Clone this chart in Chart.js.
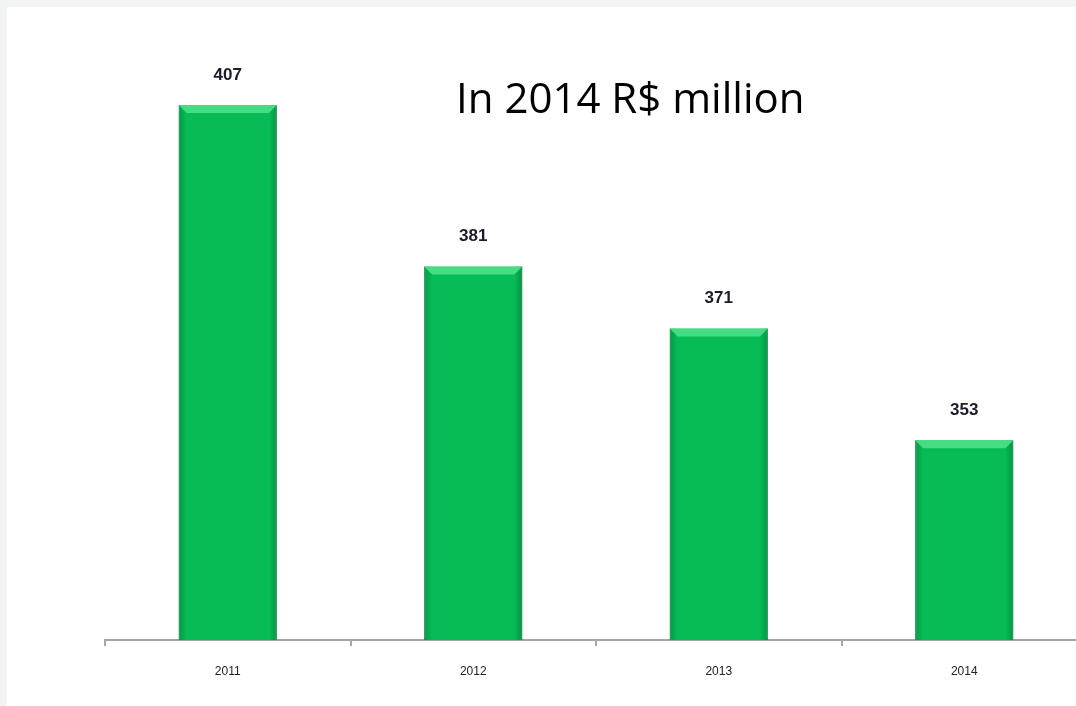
<!DOCTYPE html>
<html>
<head>
<meta charset="utf-8">
<script src="https://cdn.jsdelivr.net/npm/chart.js@4"></script>
<style>
  html, body { margin: 0; padding: 0; width: 1076px; height: 706px; overflow: hidden; background: #f2f3f3; }
  #panel { position: absolute; left: 7px; top: 7px; right: 0; bottom: 0; background: #fff; }
  #wrap { position: absolute; left: 0; top: 0; width: 1090px; height: 706px; }
  #title { position: absolute; left: 456px; top: 68px; font-family: "Open Sans", sans-serif; font-size: 42px; line-height: normal; color: #000; white-space: nowrap; }
</style>
</head>
<body>
<div id="panel"></div>
<div id="wrap"><canvas id="chart" width="1090" height="706"></canvas></div>
<div id="title">In 2014 R$ million</div>
<script>
const years = ['2011', '2012', '2013', '2014'];
const values = [407, 381, 371, 353];

// ---------------- BEVEL LOOK + VALUE LABELS ----------------
const bevelPlugin = {
  id: 'bevel',
  afterDatasetsDraw(chart) {
    const ctx = chart.ctx;
    const bottom = chart.chartArea.bottom;
    chart.getDatasetMeta(0).data.forEach((bar, i) => {
      const l = bar.x - bar.width / 2, r = bar.x + bar.width / 2;
      const t = bar.y, d = 8;
      ctx.save();
      // dark side strips
      let g = ctx.createLinearGradient(l, 0, l + d, 0);
      g.addColorStop(0, 'rgba(0,90,40,0.35)');
      g.addColorStop(1, 'rgba(0,90,40,0)');
      ctx.fillStyle = g;
      ctx.fillRect(l, t, d, bottom - t);
      g = ctx.createLinearGradient(r - d, 0, r, 0);
      g.addColorStop(0, 'rgba(0,90,40,0)');
      g.addColorStop(1, 'rgba(0,90,40,0.4)');
      ctx.fillStyle = g;
      ctx.fillRect(r - d, t, d, bottom - t);
      // light top bevel
      ctx.beginPath();
      ctx.moveTo(l, t);
      ctx.lineTo(r, t);
      ctx.lineTo(r - d, t + d);
      ctx.lineTo(l + d, t + d);
      ctx.closePath();
      ctx.fillStyle = '#45dc83';
      ctx.fill();
      // value label
      ctx.fillStyle = '#1b1b2a';
      ctx.font = 'bold 17px "Liberation Sans", Arial, sans-serif';
      ctx.textAlign = 'center';
      ctx.textBaseline = 'middle';
      ctx.fillText(String(values[i]), bar.x, t - 30);
      ctx.restore();
    });
  }
};

new Chart(document.getElementById('chart'), {
  type: 'bar',
  data: {
    labels: years,
    datasets: [{
      data: values,
      backgroundColor: '#07bb56',
      borderColor: '#099c48',
      borderWidth: 1,
      borderSkipped: 'bottom',
      barPercentage: 0.8,
      categoryPercentage: 0.5
    }]
  },
  options: {
    responsive: false,
    animation: false,
    layout: { padding: { left: 105, top: 20, right: 3, bottom: 0 } },
    plugins: {
      legend: { display: false },
      title: { display: false },
      tooltip: { enabled: false }
    },
    scales: {
      x: {
        afterFit: s => { s.height = 66; },
        border: { color: '#a6a6a6', width: 2 },
        grid: { offset: true, drawOnChartArea: false, drawTicks: true, tickLength: 6, color: '#a6a6a6', lineWidth: 2 },
        ticks: { color: '#222', padding: 18, font: { size: 12, family: '"Liberation Sans", Arial, sans-serif' } }
      },
      y: {
        display: false,
        min: 320.8,
        max: 420.7
      }
    }
  },
  plugins: [bevelPlugin]
});
</script>
</body>
</html>
